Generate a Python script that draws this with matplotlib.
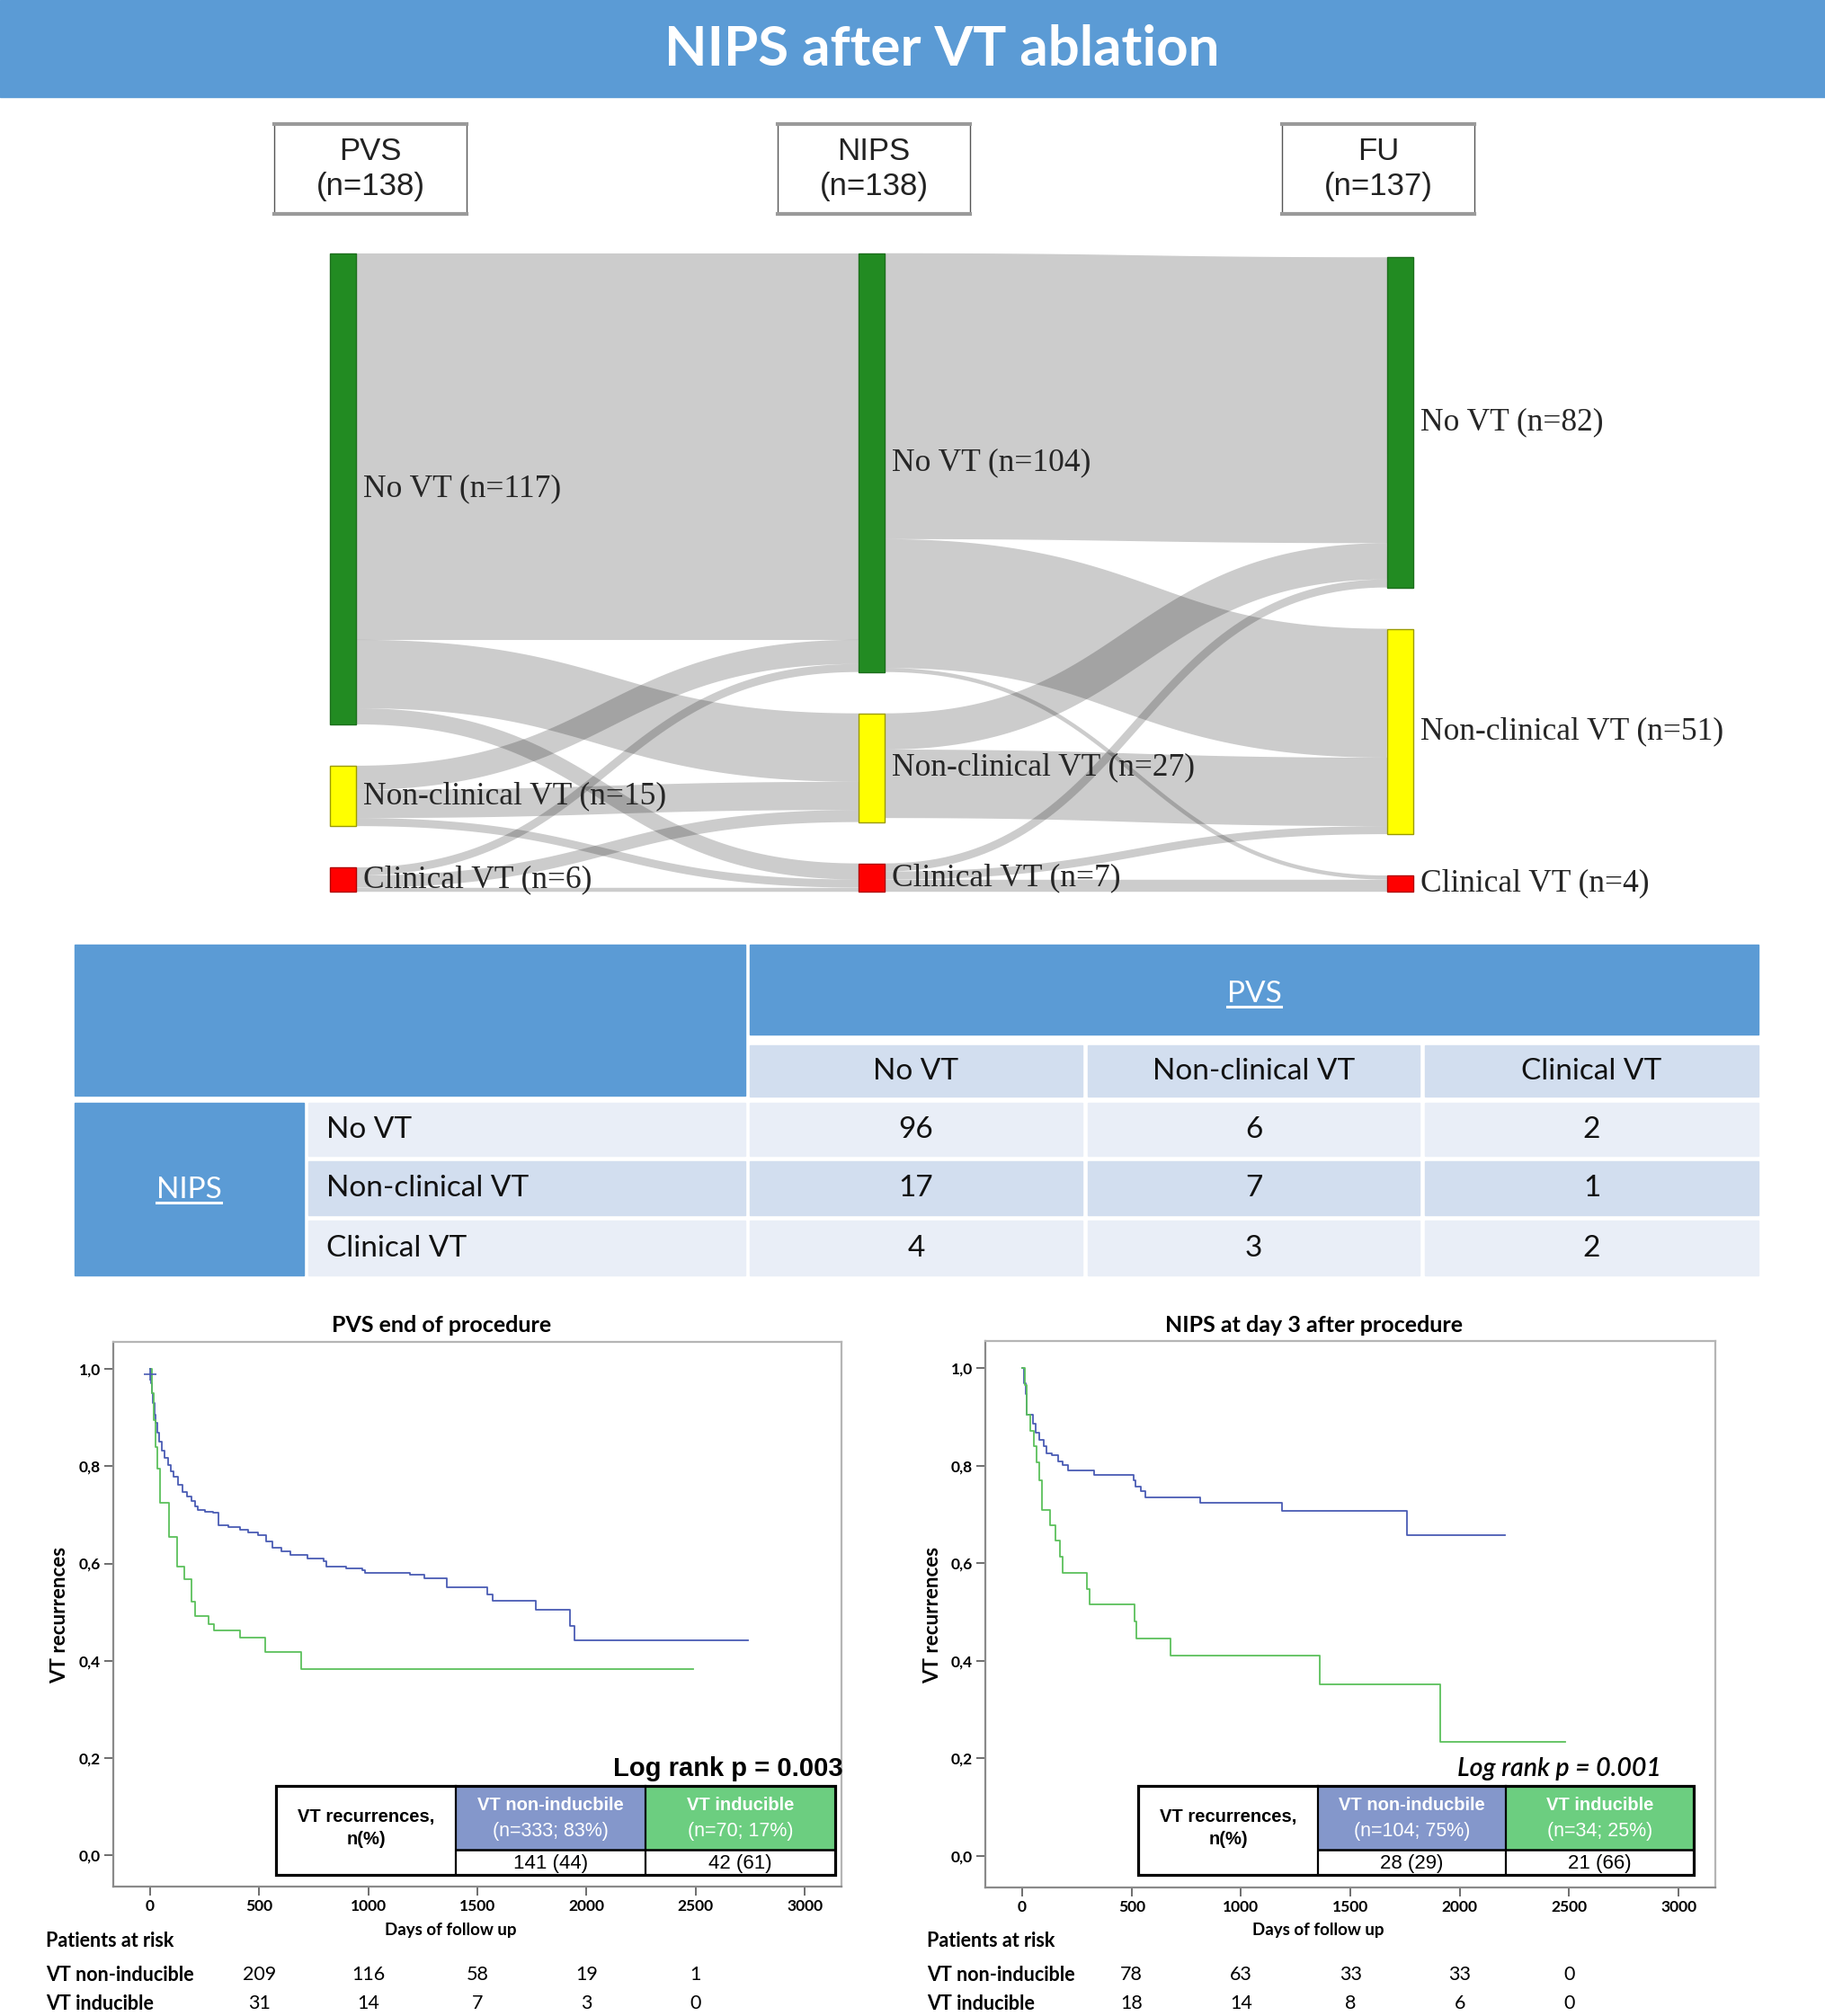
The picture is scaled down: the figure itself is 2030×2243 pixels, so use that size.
import numpy as np
import matplotlib
matplotlib.use("Agg")
import matplotlib.pyplot as plt
from matplotlib.patches import Rectangle
from matplotlib.transforms import blended_transform_factory

plt.rcParams["font.family"] = ["Lato", "DejaVu Sans"]

W, H = 2031, 2243
HDR = "#5B9BD5"
LIGHT = "#E9EEF7"
MID = "#D2DEEF"
C_NONIND = "#4A5CB4"
C_IND = "#5CC05C"

# ---------------- data ----------------
title = "NIPS after VT ablation"
stages = ["PVS", "NIPS", "FU"]
stage_n = [138, 138, 137]
states = ["No VT", "Non-clinical VT", "Clinical VT"]
state_colors = ["#228B22", "#FFFF00", "#FF0000"]
state_edges = ["#1d6f1d", "#9a9a00", "#b00000"]
# sankey flows (rows = source state, cols = target state)
flow_pvs_nips = [[96, 17, 4], [6, 7, 2], [2, 3, 1]]
flow_nips_fu = [[71, 32, 1], [9, 17, 0], [2, 2, 3]]

# cross table: rows = NIPS, cols = PVS
tab_vals = [[96, 6, 2], [17, 7, 1], [4, 3, 2]]

# Kaplan-Meier curves (days, proportion free of VT)
pvs_non_t = [0, 4, 8, 13, 19, 26, 33, 42, 53, 66, 81, 95, 108, 128, 149, 170, 190, 205,
             218, 250, 287, 314, 360, 410, 450, 493, 530, 561, 600, 643, 720, 794, 808,
             900, 973, 986, 1189, 1255, 1360, 1543, 1570, 1767, 1924, 1943, 2738]
pvs_non_s = [1.0, 0.97, 0.95, 0.93, 0.907, 0.89, 0.87, 0.85, 0.833, 0.817, 0.802, 0.79,
             0.778, 0.762, 0.747, 0.737, 0.728, 0.718, 0.71, 0.707, 0.704, 0.679, 0.675,
             0.67, 0.664, 0.658, 0.646, 0.633, 0.625, 0.617, 0.611, 0.605, 0.593, 0.589,
             0.586, 0.58, 0.577, 0.57, 0.551, 0.537, 0.523, 0.505, 0.472, 0.442, 0.442]
pvs_ind_t = [0, 8, 16, 25, 33, 47, 88, 123, 156, 190, 204, 266, 294, 411, 527, 691, 2489]
pvs_ind_s = [1.0, 0.95, 0.895, 0.84, 0.796, 0.725, 0.654, 0.593, 0.568, 0.522, 0.491,
             0.476, 0.463, 0.448, 0.417, 0.383, 0.383]
nips_non_t = [0, 8, 16, 22, 49, 63, 76, 98, 112, 137, 164, 186, 208, 328, 508, 519, 541,
              563, 814, 1188, 1759, 2207]
nips_non_s = [1.0, 0.97, 0.947, 0.905, 0.886, 0.868, 0.854, 0.84, 0.826, 0.821, 0.809,
              0.802, 0.791, 0.781, 0.77, 0.757, 0.748, 0.735, 0.724, 0.707, 0.657, 0.657]
nips_ind_t = [0, 11, 19, 22, 36, 52, 66, 78, 90, 126, 150, 172, 186, 295, 309, 514, 522,
              678, 1361, 1912, 2481]
nips_ind_s = [1.0, 0.965, 0.933, 0.905, 0.872, 0.84, 0.807, 0.77, 0.709, 0.678, 0.646,
              0.613, 0.58, 0.548, 0.516, 0.48, 0.446, 0.41, 0.351, 0.234, 0.234]

km_titles = ["PVS end of procedure", "NIPS at day 3 after procedure"]
logrank = ["Log rank p = 0.003", "Log rank p = 0.001"]
grp_head = [["VT non-inducbile", "(n=333; 83%)", "VT inducible", "(n=70; 17%)"],
            ["VT non-inducbile", "(n=104; 75%)", "VT inducible", "(n=34; 25%)"]]
grp_recur = [["141 (44)", "42 (61)"], ["28 (29)", "21 (66)"]]
risk_days = [500, 1000, 1500, 2000, 2500]
risk_non = [[209, 116, 58, 19, 1], [78, 63, 33, 33, 0]]
risk_ind = [[31, 14, 7, 3, 0], [18, 14, 8, 6, 0]]

fig = plt.figure(figsize=(W / 100, H / 100), dpi=100)


def px_axes(x0, x1, y0, y1):
    return fig.add_axes([x0 / W, 1 - y1 / H, (x1 - x0) / W, (y1 - y0) / H])


# ---------------- Kaplan-Meier panels ----------------
axL = px_axes(126, 936, 1493, 2099)
axR = px_axes(1096, 1908, 1492, 2100)
curves = [(pvs_non_t, pvs_non_s, pvs_ind_t, pvs_ind_s),
          (nips_non_t, nips_non_s, nips_ind_t, nips_ind_s)]
for ax, (t1, s1, t2, s2) in zip([axL, axR], curves):
    ax.step(t1, s1, where="post", color=C_NONIND, lw=1.3)
    ax.step(t2, s2, where="post", color=C_IND, lw=1.3)
    ax.set_xlim(-169, 3168)
    ax.set_ylim(-0.065, 1.056)
    ax.set_xticks(range(0, 3001, 500))
    ax.set_yticks([0, 0.2, 0.4, 0.6, 0.8, 1.0])
    ax.set_yticklabels(["0,0", "0,2", "0,4", "0,6", "0,8", "1,0"])
    ax.tick_params(direction="out", length=7, width=1.2, color="#555", labelsize=12.5, pad=3)
    for lab in ax.get_xticklabels() + ax.get_yticklabels():
        lab.set_fontweight("bold")
    for side, sp in ax.spines.items():
        sp.set_color("#8a8a8a" if side in ("left", "bottom") else "#b5b5b5")
        sp.set_linewidth(1.6)
axL.plot([0], [0.99], marker="+", ms=10, color=C_NONIND, mew=1.2)

# ---------------- overlay (pixel coordinates) ----------------
ov = fig.add_axes([0, 0, 1, 1])
ov.set_xlim(0, W)
ov.set_ylim(H, 0)
ov.axis("off")

# title bar
ov.add_patch(Rectangle((0, 0), W, 108, color=HDR, zorder=1))
ov.text(1048, 55, title, color="white", fontsize=44.5, fontweight="bold",
        ha="center", va="center", zorder=2)

# stage header boxes
box_left = [305, 865, 1426]
for bx, st, n in zip(box_left, stages, stage_n):
    ov.add_patch(Rectangle((bx, 138), 214, 100, fc="white", ec="#555", lw=1, zorder=2))
    ov.plot([bx, bx + 214], [138, 138], color="#9a9a9a", lw=3, zorder=3)
    ov.plot([bx, bx + 214], [238, 238], color="#9a9a9a", lw=3, zorder=3)
    ov.text(bx + 107, 168, st, fontsize=25, family="Liberation Sans", color="#222",
            ha="center", va="center", zorder=4)
    ov.text(bx + 107, 207, f"(n={n})", fontsize=25, family="Liberation Sans", color="#222",
            ha="center", va="center", zorder=4)

# ---------------- sankey ----------------
f01 = np.array(flow_pvs_nips)
f12 = np.array(flow_nips_fu)
node_vals = [f01.sum(axis=1), np.maximum(f01.sum(axis=0), f12.sum(axis=1)), f12.sum(axis=0)]
K = 4.48        # px per patient
GAP = 46
BOTTOM = 992
col_x = [367, 955, 1543]
NW = 29
node_y = []
for vals in node_vals:
    y = BOTTOM - (vals.sum() * K + GAP * (len(vals) - 1))
    ys = []
    for v in vals:
        ys.append(y)
        y += v * K + GAP
    node_y.append(ys)


def link(x0, y0, x1, y1, w):
    t = np.linspace(0, 1, 80)
    xm = (x0 + x1) / 2
    bx = (1 - t) ** 3 * x0 + 3 * (1 - t) ** 2 * t * xm + 3 * (1 - t) * t ** 2 * xm + t ** 3 * x1
    by = (1 - t) ** 3 * y0 + 3 * (1 - t) ** 2 * t * y0 + 3 * (1 - t) * t ** 2 * y1 + t ** 3 * y1
    ov.plot(bx, by, color="black", alpha=0.2, lw=w * 0.72, solid_capstyle="butt", zorder=2)


for c, flows in enumerate([f01, f12]):
    out_off = [0.0] * 3
    in_off = [0.0] * 3
    for i in range(3):
        for j in range(3):
            v = flows[i, j]
            if v == 0:
                continue
            w = v * K
            sy = node_y[c][i] + out_off[i] + w / 2
            ty = node_y[c + 1][j] + in_off[j] + w / 2
            out_off[i] += w
            in_off[j] += w
            link(col_x[c] + NW, sy, col_x[c + 1], ty, w)

for c in range(3):
    for k in range(3):
        h = node_vals[c][k] * K
        ov.add_patch(Rectangle((col_x[c], node_y[c][k]), NW, h, fc=state_colors[k],
                               ec=state_edges[k], lw=1, zorder=3))
        ov.text(col_x[c] + NW + 8, node_y[c][k] + h / 2, f"{states[k]} (n={node_vals[c][k]})",
                fontsize=25.5, family="Liberation Serif", color="#262626",
                ha="left", va="center", zorder=4)

# ---------------- cross table ----------------
col_edges = [(834, 1204), (1210, 1579), (1585, 1956)]
row_edges = [(1227, 1286), (1292, 1352), (1358, 1419)]
ov.add_patch(Rectangle((83, 1051), 746, 168, color=HDR, zorder=1))
ov.add_patch(Rectangle((834, 1051), 1122, 100, color=HDR, zorder=1))
ov.add_patch(Rectangle((83, 1227), 255, 192, color=HDR, zorder=1))
for (x0, x1), lab in zip(col_edges, states):
    ov.add_patch(Rectangle((x0, 1163), x1 - x0, 57, color=MID, zorder=1))
    ov.text((x0 + x1) / 2, 1192, lab, fontsize=24, ha="center", va="center", color="#111")
for r, ((y0, y1), lab) in enumerate(zip(row_edges, states)):
    bg = MID if r == 1 else LIGHT
    ov.add_patch(Rectangle((343, y0), 486, y1 - y0, color=bg, zorder=1))
    ov.text(363, (y0 + y1) / 2, lab, fontsize=24, ha="left", va="center", color="#111")
    for (x0, x1), v in zip(col_edges, tab_vals[r]):
        ov.add_patch(Rectangle((x0, y0), x1 - x0, y1 - y0, color=bg, zorder=1))
        ov.text((x0 + x1) / 2, (y0 + y1) / 2, str(v), fontsize=24, ha="center",
                va="center", color="#111")
t_pvs = ov.text(1395, 1106, "PVS", fontsize=24, color="white", ha="center", va="center")
t_nips = ov.text(210, 1324, "NIPS", fontsize=24, color="white", ha="center", va="center")

# ---------------- KM annotations ----------------
for ttl, cx in zip(km_titles, [491, 1461]):
    ov.text(cx, 1474, ttl, fontsize=18, fontweight="bold", ha="center", va="center")
for yx in [67, 1038]:
    ov.text(yx, 1797, "VT recurrences", fontsize=16, fontweight="bold", rotation=90,
            ha="center", va="center")
for cx in [501, 1466]:
    ov.text(cx, 2147, "Days of follow up", fontsize=13.5, fontweight="bold",
            ha="center", va="center")

ov.text(938, 1968, logrank[0], fontsize=21, fontweight="bold", family="Liberation Sans",
        ha="right", va="center", zorder=6)
ov.text(1848, 1968, logrank[1], fontsize=20.5, style="italic", fontweight="semibold",
        ha="right", va="center", zorder=6)

tbl_cols = [[307, 507, 718, 929], [1266, 1466, 1675, 1884]]
TY0, TY1, TY2 = 1987, 2058, 2086
for p, xs in enumerate(tbl_cols):
    ov.add_patch(Rectangle((xs[0], TY0), xs[3] - xs[0], TY2 - TY0, fc="white", ec="none", zorder=5))
    ov.add_patch(Rectangle((xs[1], TY0), xs[2] - xs[1], TY1 - TY0, fc="#8497CB", ec="none", zorder=5))
    ov.add_patch(Rectangle((xs[2], TY0), xs[3] - xs[2], TY1 - TY0, fc="#6CCE80", ec="none", zorder=5))
    ov.add_patch(Rectangle((xs[0], TY0), xs[3] - xs[0], TY2 - TY0, fc="none", ec="black",
                           lw=2.3, zorder=7))
    for xv in xs[1:3]:
        ov.plot([xv, xv], [TY0, TY2], color="black", lw=1.6, zorder=7)
    ov.plot([xs[1], xs[3]], [TY1, TY1], color="black", lw=1.8, zorder=7)
    mid0 = (xs[0] + xs[1]) / 2
    ov.text(mid0, 2021, "VT recurrences,", fontsize=14.5, fontweight="bold",
            family="Liberation Sans", ha="center", va="center", zorder=8)
    ov.text(mid0, 2046, "n(%)", fontsize=14.5, fontweight="bold",
            family="Liberation Sans", ha="center", va="center", zorder=8)
    for k in range(2):
        cx = (xs[k + 1] + xs[k + 2]) / 2
        ov.text(cx, 2009, grp_head[p][2 * k], fontsize=14.5, fontweight="bold", color="white",
                family="Liberation Sans", ha="center", va="center", zorder=8)
        ov.text(cx, 2037, grp_head[p][2 * k + 1], fontsize=15.5, color="white",
                family="Liberation Sans", ha="center", va="center", zorder=8)
        ov.text(cx, 2073, grp_recur[p][k], fontsize=16, family="Liberation Sans",
                ha="center", va="center", zorder=8)

# patients at risk
for ax, lx, rn, ri in zip([axL, axR], [51, 1031], risk_non, risk_ind):
    ov.text(lx, 2159, "Patients at risk", fontsize=15.5, fontweight="bold", ha="left", va="center")
    ov.text(lx, 2197, "VT non-inducible", fontsize=15.5, fontweight="bold", ha="left", va="center")
    ov.text(lx, 2229, "VT inducible", fontsize=15.5, fontweight="bold", ha="left", va="center")
    tr = blended_transform_factory(ax.transData, ov.transData)
    for d, a, b in zip(risk_days, rn, ri):
        ov.text(d, 2197, str(a), fontsize=15.5, ha="center", va="center", transform=tr)
        ov.text(d, 2229, str(b), fontsize=15.5, ha="center", va="center", transform=tr)

# underline PVS / NIPS headers
fig.canvas.draw()
inv = ov.transData.inverted()
for t in [t_pvs, t_nips]:
    bb = t.get_window_extent()
    (xa, ya), (xb, yb) = inv.transform([(bb.x0, bb.y0), (bb.x1, bb.y1)])
    ov.plot([xa, xb], [ya - 1, ya - 1], color="white", lw=2.2, zorder=3)

fig.savefig("out.png", dpi=100)
